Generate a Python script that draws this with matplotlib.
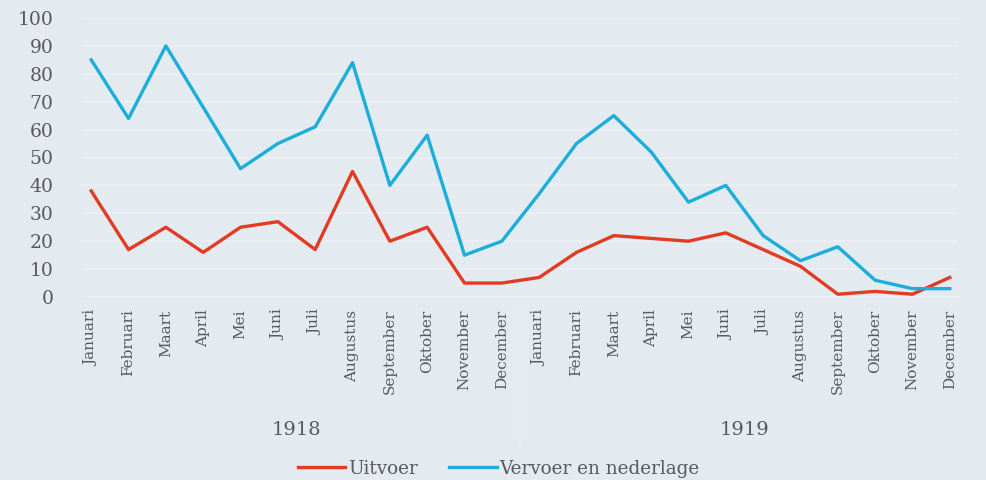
import matplotlib
matplotlib.use('Agg')
import matplotlib.pyplot as plt

months = ["Januari", "Februari", "Maart", "April", "Mei", "Juni", "Juli",
          "Augustus", "September", "Oktober", "November", "December"]
years = ["1918", "1919"]

uitvoer = [38, 17, 25, 16, 25, 27, 17, 45, 20, 25, 5, 5,
           7, 16, 22, 21, 20, 23, 17, 11, 1, 2, 1, 7]
vervoer = [85, 64, 90, 68, 46, 55, 61, 84, 40, 58, 15, 20,
           37, 55, 65, 52, 34, 40, 22, 13, 18, 6, 3, 3]

bg = "#E3EAF0"
txt = "#595959"
plt.rcParams['font.family'] = ['DejaVu Serif']

fig = plt.figure(figsize=(9.87, 4.8), dpi=100, facecolor=bg)
ax = fig.add_axes([83 / 987, (480 - 297) / 480, (958 - 83) / 987, (297 - 18) / 480])
ax.set_facecolor(bg)

x = list(range(len(uitvoer)))
ax.plot(x, uitvoer, color="#E23B22", lw=2.4, label="Uitvoer")
ax.plot(x, vervoer, color="#1CAEDA", lw=2.4, label="Vervoer en nederlage")

ax.set_xlim(-0.22, len(x) - 1 + 0.22)
ax.set_ylim(0, 100)
ax.set_yticks(range(0, 101, 10))
ax.grid(axis="y", color="#EAEFF3", lw=1.5)
ax.set_axisbelow(True)
for s in ax.spines.values():
    s.set_visible(False)

ax.set_xticks(x)
ax.set_xticklabels(months * 2, rotation=90, fontsize=11, color=txt, va="top")
ax.tick_params(axis="both", length=0, labelcolor=txt)
ax.tick_params(axis="y", labelsize=13.5, pad=21)
ax.tick_params(axis="x", pad=9)

# year group labels and separator
for i, yr in enumerate(years):
    ax.text(i * 12 + 5.5, -47.7, yr, ha="center", va="center", fontsize=14,
            color=txt, clip_on=False)
ax.plot([11.5, 11.5], [-2, -53], color="#EAEFF3", lw=1.2, clip_on=False)

leg = ax.legend(loc="center", bbox_to_anchor=(0.475, -0.616), ncol=2, frameon=False,
                fontsize=13.2, handlelength=2.6, columnspacing=1.7, handletextpad=0.15)
for t in leg.get_texts():
    t.set_color(txt)

fig.savefig("out.png", dpi=100, facecolor=bg)
